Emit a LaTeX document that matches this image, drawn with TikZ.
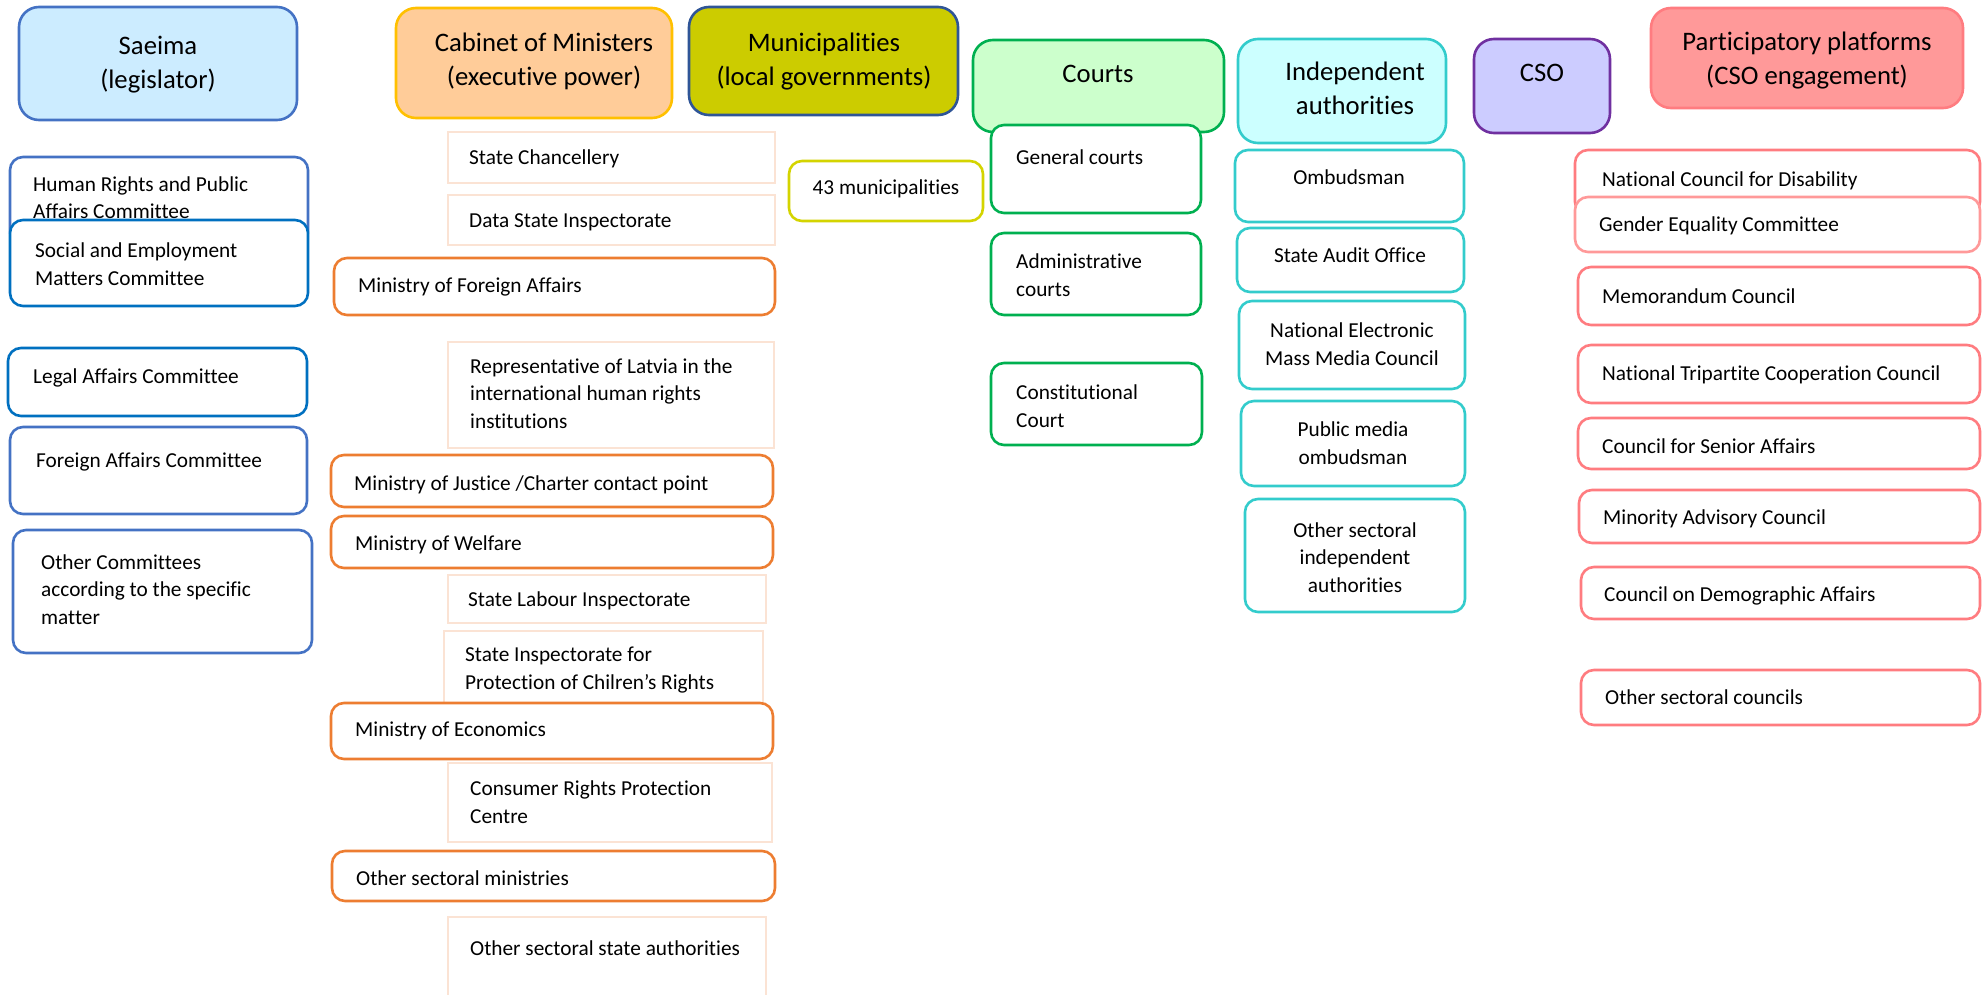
\documentclass[tikz,border=0pt]{standalone}
\usepackage{fontspec}
\setmainfont[Ligatures=NoCommon]{Carlito}
\definecolor{saeimaF}{HTML}{CCECFF}
\definecolor{blueA}{HTML}{4472C4}
\definecolor{blueB}{HTML}{0070C0}
\definecolor{cabF}{HTML}{FFCC99}
\definecolor{cabD}{HTML}{FFC000}
\definecolor{munF}{HTML}{CCCC00}
\definecolor{munD}{HTML}{2F5597}
\definecolor{munS}{HTML}{D4D400}
\definecolor{courtF}{HTML}{CCFFCC}
\definecolor{courtD}{HTML}{00B050}
\definecolor{indF}{HTML}{CCFFFF}
\definecolor{indD}{HTML}{33CCCC}
\definecolor{csoF}{HTML}{CCCCFF}
\definecolor{csoD}{HTML}{7030A0}
\definecolor{parF}{HTML}{FF9999}
\definecolor{parD}{HTML}{FF7C80}
\definecolor{orangeD}{HTML}{ED7D31}
\definecolor{peachD}{HTML}{FBE3D4}
\tikzset{
 hdr/.style={draw, line width=2.6pt, rounded corners=20pt, inner sep=0pt, outer sep=0pt},
 sub/.style={draw, fill=white, line width=2.6pt, rounded corners=13pt, inner sep=0pt, outer sep=0pt},
 light/.style={draw=peachD, fill=white, line width=2.6pt, inner sep=0pt, outer sep=0pt},
 txt/.style={inner sep=0pt, font=\fontsize{21.3}{27.5}\selectfont, align=left, anchor=base west},
 ctxt/.style={inner sep=0pt, font=\fontsize{21.3}{27.5}\selectfont, align=center, anchor=base},
 htxt/.style={inner sep=0pt, font=\fontsize{26.7}{34}\selectfont, align=center, anchor=base},
}
% text nodes of several lines are placed by the baseline of their LAST line
\newcommand\bx[6]{\node[#1, anchor=north west, minimum width={(#5-#3)*1pt}, minimum height={(#6-#4)*1pt}] (#2) at (#3,#4) {};}
\begin{document}
\begin{tikzpicture}[x=1pt,y=-1pt]
\useasboundingbox (0,0) rectangle (1982,995);
\fill[white] (0,0) rectangle (1982,995);
% headers
\bx{hdr,fill=saeimaF,draw=blueA}{saeima}{19}{7}{297}{120}
\node[htxt] (saeimaT) at (158,89) {Saeima\\(legislator)};
\bx{hdr,fill=cabF,draw=cabD}{cabinet}{396}{8}{672}{118}
\node[htxt] (cabinetT) at (544,86) {Cabinet of Ministers\\(executive power)};
\bx{hdr,fill=munF,draw=munD}{munic}{689}{7}{958}{115}
\node[htxt] (municT) at (824,86) {Municipalities\\(local governments)};
\bx{hdr,fill=courtF,draw=courtD}{courts}{973}{40}{1224}{132}
\node[htxt] (courtsT) at (1098,83) {Courts};
\bx{hdr,fill=indF,draw=indD}{indep}{1238}{39}{1446}{143}
\node[htxt] (indepT) at (1355,115) {Independent\\authorities};
\bx{hdr,fill=csoF,draw=csoD}{cso}{1474}{39}{1610}{133}
\node[htxt] (csoT) at (1542,82) {CSO};
\bx{hdr,fill=parF,draw=parD}{partic}{1651}{8}{1963}{108}
\node[htxt] (particT) at (1807,85) {Participatory platforms\\(CSO engagement)};
% Saeima committees
\bx{sub,draw=blueA}{hr}{10}{157}{308}{245}
\node[txt] (hrT) at (33,219) {Human Rights and Public\\Affairs Committee};
\bx{sub,draw=blueB}{soc}{10}{220}{308}{306}
\node[txt] (socT) at (35,285) {Social and Employment\\Matters Committee};
\bx{sub,draw=blueB}{legal}{8}{348}{307}{416}
\node[txt] (legalT) at (33,383) {Legal Affairs Committee};
\bx{sub,draw=blueA}{foreign}{10}{427}{307}{514}
\node[txt] (foreignT) at (36,467) {Foreign Affairs Committee};
\bx{sub,draw=blueA}{othercom}{13}{530}{312}{653}
\node[txt] (othercomT) at (41,624) {Other Committees\\according to the specific\\matter};
% Cabinet
\bx{light}{chanc}{448}{132}{775}{183}
\node[txt] (chancT) at (469,165) {State Chancellery};
\bx{light}{data}{448}{195}{775}{245}
\node[txt] (dataT) at (469,228) {Data State Inspectorate};
\bx{sub,draw=orangeD}{mfa}{334}{258}{775}{315}
\node[txt] (mfaT) at (358,293) {Ministry of Foreign Affairs};
\bx{light}{rep}{448}{342}{774}{448}
\node[txt] (repT) at (470,428) {Representative of Latvia in the\\international human rights\\institutions};
\bx{sub,draw=orangeD}{moj}{331}{455}{773}{507}
\node[txt] (mojT) at (354,490) {Ministry of Justice /Charter contact point};
\bx{sub,draw=orangeD}{mow}{331}{516}{773}{568}
\node[txt] (mowT) at (355,550) {Ministry of Welfare};
\bx{light}{sli}{448}{575}{766}{623}
\node[txt] (sliT) at (468,606) {State Labour Inspectorate};
\bx{light}{sicr}{444}{631}{763}{712}
\node[txt] (sicrT) at (465,689) {State Inspectorate for\\Protection of Chilren’s Rights};
\bx{sub,draw=orangeD}{moe}{331}{703}{773}{759}
\node[txt] (moeT) at (355,736) {Ministry of Economics};
\bx{light}{crpc}{448}{763}{772}{842}
\node[txt] (crpcT) at (470,823) {Consumer Rights Protection\\Centre};
\bx{sub,draw=orangeD}{osm}{332}{851}{775}{901}
\node[txt] (osmT) at (356,885) {Other sectoral ministries};
\bx{light}{ossa}{448}{917}{766}{1002}
\node[txt] (ossaT) at (470,955) {Other sectoral state authorities};
% Municipalities
\bx{sub,draw=munS}{m43}{789}{161}{983}{221}
\node[ctxt] (m43T) at (886,195) {43 municipalities};
% Courts
\bx{sub,draw=courtD}{gen}{991}{125}{1201}{213}
\node[txt] (genT) at (1016,165) {General courts};
\bx{sub,draw=courtD}{adm}{991}{233}{1201}{315}
\node[txt] (admT) at (1016,296) {Administrative\\courts};
\bx{sub,draw=courtD}{const}{991}{363}{1202}{445}
\node[txt] (constT) at (1016,427) {Constitutional\\Court};
% Independent
\bx{sub,draw=indD}{omb}{1235}{150}{1464}{222}
\node[ctxt] (ombT) at (1349,185) {Ombudsman};
\bx{sub,draw=indD}{sao}{1237}{228}{1464}{292}
\node[ctxt] (saoT) at (1350,263) {State Audit Office};
\bx{sub,draw=indD}{nemmc}{1239}{301}{1465}{389}
\node[ctxt] (nemmcT) at (1352,365) {National Electronic\\Mass Media Council};
\bx{sub,draw=indD}{pmo}{1241}{401}{1465}{486}
\node[ctxt] (pmoT) at (1353,464) {Public media\\ombudsman};
\bx{sub,draw=indD}{osia}{1245}{499}{1465}{612}
\node[ctxt] (osiaT) at (1355,592) {Other sectoral\\independent\\authorities};
% Participatory
\bx{sub,draw=parD}{ncd}{1575}{150}{1980}{215}
\node[txt] (ncdT) at (1602,187) {National Council for Disability};
\bx{sub,draw=parF}{gec}{1575}{197}{1980}{252}
\node[txt] (gecT) at (1599,232) {Gender Equality Committee};
\bx{sub,draw=parD}{memo}{1578}{267}{1980}{325}
\node[txt] (memoT) at (1602,303) {Memorandum Council};
\bx{sub,draw=parD}{ntcc}{1578}{345}{1980}{403}
\node[txt] (ntccT) at (1602,380) {National Tripartite Cooperation Council};
\bx{sub,draw=parD}{csa}{1578}{418}{1980}{469}
\node[txt] (csaT) at (1602,453) {Council for Senior Affairs};
\bx{sub,draw=parD}{mac}{1579}{490}{1980}{543}
\node[txt] (macT) at (1603,524) {Minority Advisory Council};
\bx{sub,draw=parD}{cda}{1581}{567}{1980}{619}
\node[txt] (cdaT) at (1604,601) {Council on Demographic Affairs};
\bx{sub,draw=parD}{osc}{1581}{670}{1980}{725}
\node[txt] (oscT) at (1605,704) {Other sectoral councils};
\end{tikzpicture}
\end{document}
